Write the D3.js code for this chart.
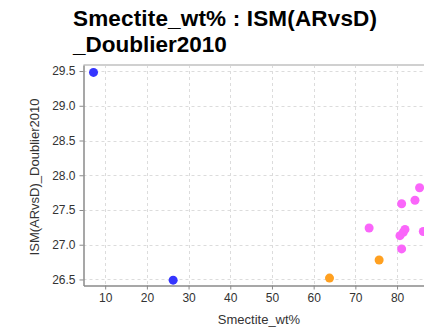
<!DOCTYPE html>
<html>
<head>
<meta charset="utf-8">
<script src="https://cdn.jsdelivr.net/npm/d3@7"></script>
<style>
  html, body { margin: 0; padding: 0; background: #fff; }
  svg { display: block; }
</style>
</head>
<body>
<svg id="chart" width="424" height="331"></svg>
<script>
// Smectite content vs. ISM(ARvsD) index, grouped by colour class
const blueX = [7.2, 26.3];
const blueY = [29.48, 26.49];
const orangeX = [63.8, 75.7];
const orangeY = [26.52, 26.78];
const magentaX = [85.4, 84.3, 81.1, 73.3, 81.9, 81.5, 80.7, 86.3, 81.1];
const magentaY = [27.82, 27.64, 27.59, 27.24, 27.22, 27.18, 27.13, 27.19, 26.94];
const xTicks = [10, 20, 30, 40, 50, 60, 70, 80];
const yTicks = [26.5, 27.0, 27.5, 28.0, 28.5, 29.0, 29.5];

const groups = [
  { x: blueX, y: blueY, color: "#3535ff" },
  { x: orangeX, y: orangeY, color: "#ffa020" },
  { x: magentaX, y: magentaY, color: "#fa66fa" }
];

const svg = d3.select("#chart");
const plot = { left: 83.5, top: 65, right: 440, bottom: 285.5 };

const x = d3.scaleLinear().domain([4.8, 90.3]).range([plot.left, plot.right]);
const y = d3.scaleLinear().domain([26.413, 29.587]).range([plot.bottom, plot.top]);

// Title
const title = svg.append("text")
  .attr("font-family", "Liberation Sans, Arial, sans-serif")
  .attr("font-weight", "bold").attr("font-size", 22.5).attr("fill", "#000");
title.append("tspan").attr("x", 73).attr("y", 26)
  .attr("textLength", 304).attr("lengthAdjust", "spacing")
  .text("Smectite_wt% : ISM(ARvsD)");
title.append("tspan").attr("x", 73).attr("y", 52).text("_Doublier2010");

// Clip region for the plotting area
svg.append("clipPath").attr("id", "plotclip")
  .append("rect").attr("x", plot.left).attr("y", plot.top)
  .attr("width", plot.right - plot.left).attr("height", plot.bottom - plot.top);

// Grid lines
const grid = svg.append("g").attr("stroke", "#dcdcdc").attr("stroke-width", 1)
  .attr("stroke-dasharray", "3,3");
grid.selectAll("line.v").data(xTicks).enter().append("line")
  .attr("x1", d => Math.round(x(d)) + 0.5).attr("x2", d => Math.round(x(d)) + 0.5)
  .attr("y1", plot.top).attr("y2", plot.bottom);
grid.selectAll("line.h").data(yTicks).enter().append("line")
  .attr("x1", plot.left).attr("x2", plot.right)
  .attr("y1", d => Math.round(y(d)) + 0.5).attr("y2", d => Math.round(y(d)) + 0.5);

// Top border of the plot frame
svg.append("line").attr("x1", plot.left).attr("x2", plot.right)
  .attr("y1", plot.top).attr("y2", plot.top)
  .attr("stroke", "#d0d0d0").attr("stroke-width", 2);

// Axes
const fontFam = "Liberation Sans, Arial, sans-serif";
const xAxis = svg.append("g").attr("transform", `translate(0,${plot.bottom})`)
  .call(d3.axisBottom(x).tickValues(xTicks).tickSizeInner(4).tickSizeOuter(0).tickPadding(4));
const yAxis = svg.append("g").attr("transform", `translate(${plot.left},0)`)
  .call(d3.axisLeft(y).tickValues(yTicks).tickFormat(d3.format(".1f")).tickSizeInner(4).tickSizeOuter(0).tickPadding(4));
[xAxis, yAxis].forEach(a => {
  a.select(".domain").attr("stroke", "#8a8a8a").attr("stroke-width", 1.5);
  a.selectAll(".tick line").attr("stroke", "#8a8a8a");
  a.selectAll(".tick text").attr("font-family", fontFam).attr("font-size", 12).attr("fill", "#333");
});

// Points
const pts = svg.append("g").attr("clip-path", "url(#plotclip)");
groups.forEach(g => {
  pts.selectAll(null).data(d3.zip(g.x, g.y)).enter().append("circle")
    .attr("cx", d => x(d[0])).attr("cy", d => y(d[1])).attr("r", 4.5)
    .attr("fill", g.color);
});

// Axis labels
svg.append("text").attr("x", 259).attr("y", 324).attr("text-anchor", "middle")
  .attr("font-family", fontFam).attr("font-size", 13).attr("fill", "#333")
  .text("Smectite_wt%");
svg.append("text").attr("transform", "translate(39,177) rotate(-90)").attr("text-anchor", "middle")
  .attr("font-family", fontFam).attr("font-size", 13).attr("fill", "#333")
  .text("ISM(ARvsD)_Doublier2010");
</script>
</body>
</html>
